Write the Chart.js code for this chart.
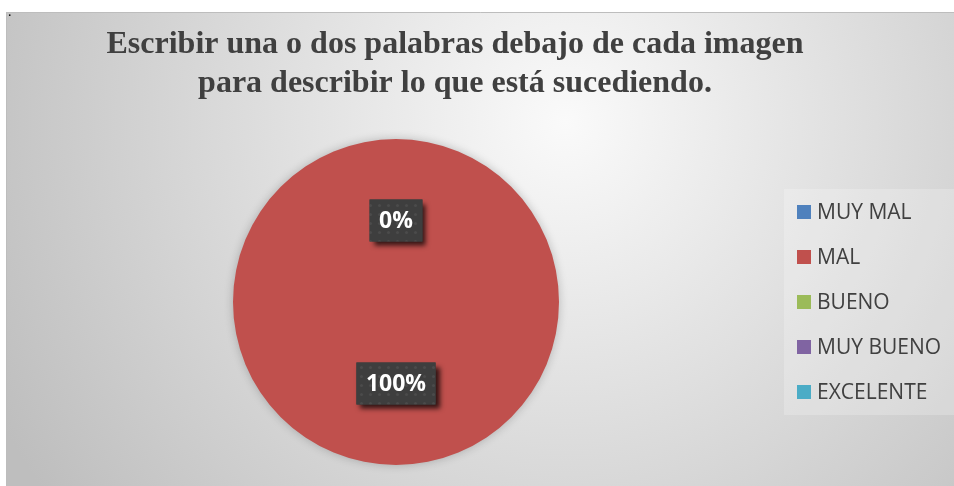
<!DOCTYPE html>
<html>
<head>
<meta charset="utf-8">
<script src="https://cdn.jsdelivr.net/npm/chart.js@4"></script>
<style>
  html, body { margin: 0; padding: 0; background: #fff; }
  body { width: 954px; height: 486px; position: relative; overflow: hidden; }
  #wrap { position: absolute; left: 6px; top: 12px; width: 948px; height: 474px; }
  #dot { position: absolute; left: 8px; top: 4px; font: 14px 'Liberation Serif'; color: #000; }
</style>
</head>
<body>
<div id="wrap"><canvas id="chart"></canvas></div>
<span id="dot">.</span>
<script>
const labels = ['MUY MAL', 'MAL', 'BUENO', 'MUY BUENO', 'EXCELENTE'];
const values = [0, 100, 0, 0, 0];
const colors = ['#4F81BD', '#C0504D', '#9BBB59', '#8064A2', '#4BACC6'];
const titleLines = ['Escribir una o dos palabras debajo de cada imagen', 'para describir lo que está sucediendo.'];

// dotted dark fill used behind the percentage labels
function makePattern(ctx) {
    const c = document.createElement('canvas');
    c.width = 9; c.height = 9;
    const p = c.getContext('2d');
    p.fillStyle = '#3e3e3e';
    p.fillRect(0, 0, 9, 9);
    p.fillStyle = '#4b4b4b';
    p.beginPath();
    p.arc(4.5, 4.5, 1.6, 0, Math.PI * 2);
    p.fill();
    return ctx.createPattern(c, 'repeat');
}

const background = {
    id: 'background',
    beforeDraw(chart) {
        const ctx = chart.ctx;
        const w = chart.width, h = chart.height;
        const g = ctx.createRadialGradient(560, 110, 0, 560, 110, 640);
        g.addColorStop(0, '#fafafa');
        g.addColorStop(1, '#bebebe');
        ctx.save();
        ctx.fillStyle = g;
        ctx.fillRect(0, 0, w, h);
        ctx.strokeStyle = '#bdbdbd';
        ctx.lineWidth = 1;
        ctx.beginPath();
        ctx.moveTo(0.5, h);
        ctx.lineTo(0.5, 0.5);
        ctx.lineTo(w, 0.5);
        ctx.stroke();
        ctx.restore();
    }
};

const pieShadow = {
    id: 'pieShadow',
    beforeDatasetsDraw(chart) {
        const ctx = chart.ctx;
        ctx.save();
        ctx.shadowColor = 'rgba(0,0,0,0.22)';
        ctx.shadowBlur = 10;
        ctx.shadowOffsetX = 0;
        ctx.shadowOffsetY = 0;
    },
    afterDatasetsDraw(chart) {
        chart.ctx.restore();
    }
};

const titleText = {
    id: 'titleText',
    afterDraw(chart) {
        const ctx = chart.ctx;
        ctx.save();
        ctx.font = 'bold 32px "Liberation Serif"';
        ctx.fillStyle = '#404040';
        ctx.textAlign = 'center';
        ctx.textBaseline = 'alphabetic';
        ctx.fillText(titleLines[0], 449, 41);
        ctx.fillText(titleLines[1], 449, 80);
        ctx.restore();
    }
};

const pctLabels = {
    id: 'pctLabels',
    afterDatasetsDraw(chart) {
        const ctx = chart.ctx;
        const meta = chart.getDatasetMeta(0);
        const data = chart.data.datasets[0].data;
        const total = data.reduce((a, b) => a + b, 0);
        const seen = {};
        const pattern = makePattern(ctx);
        ctx.save();
        ctx.font = 'bold 23px "Open Sans"';
        ctx.textAlign = 'center';
        ctx.textBaseline = 'middle';
        meta.data.forEach((arc, i) => {
            const pos = arc.tooltipPosition();
            const key = Math.round(pos.x) + ',' + Math.round(pos.y);
            if (seen[key]) return;
            seen[key] = true;
            const txt = Math.round(data[i] / total * 100) + '%';
            const tw = ctx.measureText(txt).width;
            const bw = tw + 19, bh = 42;
            const bx = pos.x - bw / 2, by = pos.y - bh / 2;
            ctx.save();
            ctx.shadowColor = 'rgba(0,0,0,0.75)';
            ctx.shadowBlur = 5;
            ctx.shadowOffsetX = 4;
            ctx.shadowOffsetY = 4;
            ctx.fillStyle = '#3e3e3e';
            ctx.fillRect(bx, by, bw, bh);
            ctx.restore();
            ctx.fillStyle = pattern;
            ctx.fillRect(bx, by, bw, bh);
            ctx.fillStyle = '#ffffff';
            ctx.fillText(txt, pos.x, pos.y + 1);
        });
        ctx.restore();
    }
};

const sideLegend = {
    id: 'sideLegend',
    afterDraw(chart) {
        const ctx = chart.ctx;
        const ds = chart.data.datasets[0];
        ctx.save();
        ctx.fillStyle = 'rgba(255,255,255,0.22)';
        ctx.fillRect(778, 177, 170, 226);
        ctx.font = '21px "Open Sans"';
        ctx.textAlign = 'left';
        ctx.textBaseline = 'middle';
        chart.data.labels.forEach((lab, i) => {
            const y = 200 + i * 45;
            ctx.fillStyle = ds.backgroundColor[i];
            ctx.fillRect(791, y - 7, 14, 14);
            ctx.fillStyle = '#404040';
            ctx.fillText(lab, 811, y + 1);
        });
        ctx.restore();
    }
};

const config = {
    type: 'pie',
    data: {
        labels: labels,
        datasets: [{
            data: values,
            backgroundColor: colors,
            borderWidth: 0
        }]
    },
    options: {
        responsive: false,
        animation: false,
        layout: { padding: { left: 227, right: 395, top: 127, bottom: 21 } },
        plugins: {
            legend: { display: false },
            title: { display: false },
            tooltip: { enabled: false }
        }
    },
    plugins: [background, pieShadow, pctLabels, titleText, sideLegend]
};

const canvas = document.getElementById('chart');
canvas.width = 948;
canvas.height = 474;
new Chart(canvas.getContext('2d'), config);
</script>
</body>
</html>
